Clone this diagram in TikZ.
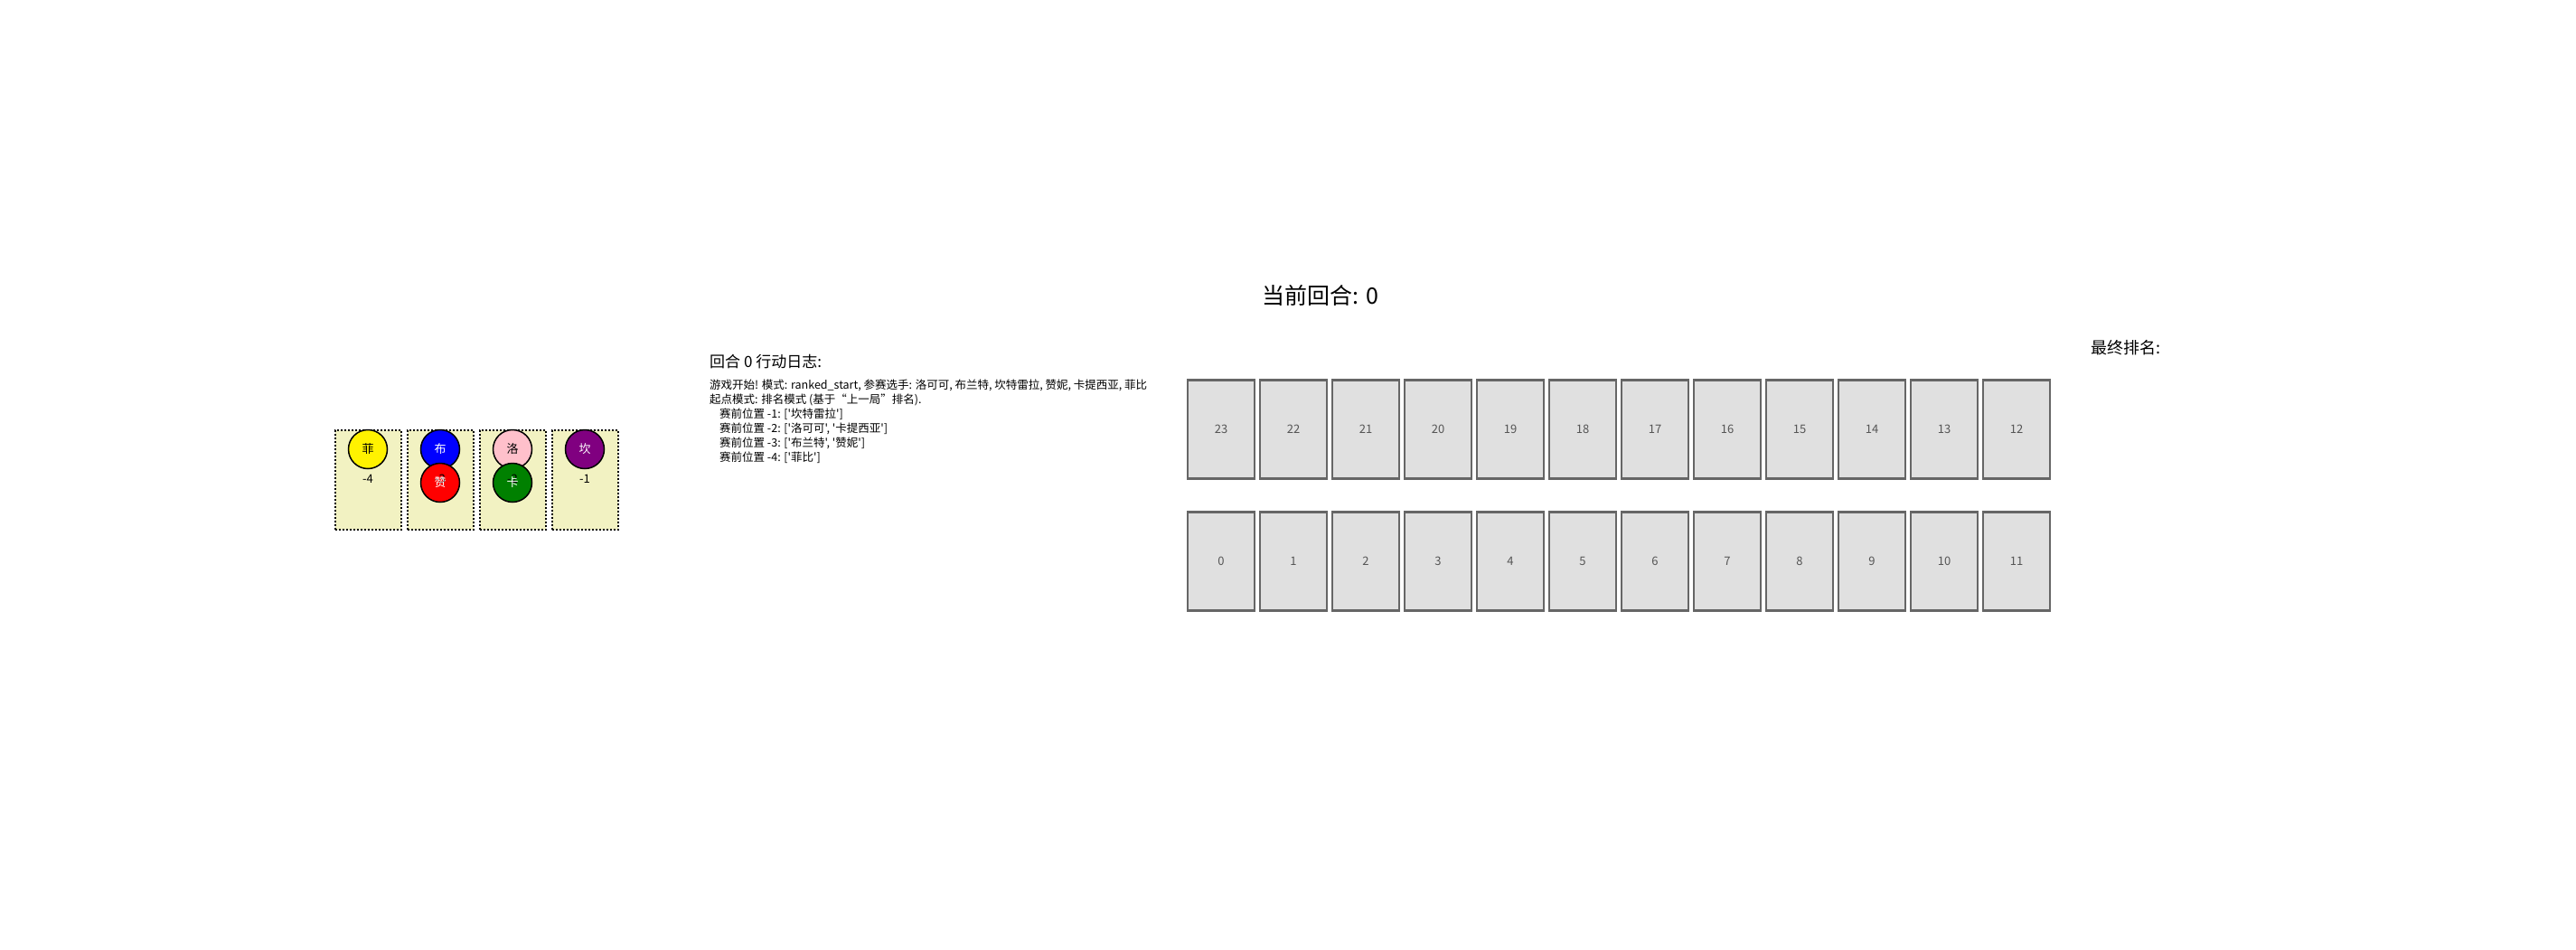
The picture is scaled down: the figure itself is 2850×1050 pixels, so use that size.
\documentclass[tikz,border=0pt]{standalone}
\usepackage{fontspec}
\setmainfont{Noto Sans CJK SC}[Ligatures=TeXOff]
\definecolor{slotfill}{HTML}{F2F2C2}
\definecolor{cellfill}{HTML}{E0E0E0}
\definecolor{cellline}{HTML}{666666}
\definecolor{celltext}{HTML}{555555}
\definecolor{runpink}{HTML}{FFC0CB}
\definecolor{runpurple}{HTML}{800080}
\definecolor{rungreen}{HTML}{008000}
\tikzset{
	slotbox/.style={draw=black, line width=2pt, dash pattern=on 2pt off 2pt, fill=slotfill, minimum width=73pt, minimum height=110pt, inner sep=0pt},
	runner/.style={circle, draw=black, line width=1.5pt, minimum size=43pt, inner sep=0pt},
	runtext/.style={font=\fontsize{13}{13}\selectfont},
	cell/.style={draw=cellline, line width=2.5pt, fill=cellfill, minimum width=74pt, minimum height=109pt, inner sep=0pt, text=celltext, font=\fontsize{13}{13}\selectfont}
}

\begin{document}
\begin{tikzpicture}[x=1pt, y=-1pt]
		\useasboundingbox[fill=white] (0,0) rectangle (2850,1050);
		% start slots
		\node[slotbox] (s4) at (407,531){};
		\node[slotbox] (s3) at (487,531){};
		\node[slotbox] (s2) at (567,531){};
		\node[slotbox] (s1) at (647,531){};
		\node[runner, fill=yellow] (fei) at (407,497){};
		\node[runner, fill=blue] (bu) at (487,497){};
		\node[runner, fill=red] (zan) at (487,534){};
		\node[runner, fill=runpink] (luo) at (567,497){};
		\node[runner, fill=rungreen] (ka) at (567,534){};
		\node[runner, fill=runpurple] (kan) at (647,497){};
		\node[runtext] (l4) at (407,530){-4};
		\node[runtext] (l3) at (487,530){-3};
		\node[runtext] (l2) at (567,530){-2};
		\node[runtext] (l1) at (647,530){-1};
		\node[runtext] at (fei){菲};
		\node[runtext, white] at (bu){布};
		\node[runtext, white] at (zan){赞};
		\node[runtext] at (luo){洛};
		\node[runtext, white] at (ka){卡};
		\node[runtext, white] at (kan){坎};
		% texts
		\node[font=\fontsize{25}{25}\selectfont] (title) at (1461,327){当前回合: 0};
		\node[font=\fontsize{18}{18}\selectfont] (final) at (2352,385){最终排名:};
		\node[anchor=west, inner sep=0pt, font=\fontsize{17}{17}\selectfont] (loghead) at (785,400){回合 0 行动日志:};
		\node[anchor=north west, align=left, inner sep=0pt, font=\fontsize{12.5}{16}\selectfont] (log) at (785,420){游戏开始! 模式: ranked\_start, 参赛选手: 洛可可, 布兰特, 坎特雷拉, 赞妮, 卡提西亚, 菲比\\
			起点模式: 排名模式 (基于“上一局”排名).\\
			\hspace*{11pt}赛前位置 -1: ['坎特雷拉']\\
			\hspace*{11pt}赛前位置 -2: ['洛可可', '卡提西亚']\\
			\hspace*{11pt}赛前位置 -3: ['布兰特', '赞妮']\\
			\hspace*{11pt}赛前位置 -4: ['菲比']};
		% track cells
		\foreach \i in {0,...,11}{
			\pgfmathtruncatemacro{\j}{23-\i}
			\node[cell] (c\i) at (1351+80*\i,621){\i};
			\node[cell] (c\j) at (1351+80*\i,475){\j};
		}
		\end{tikzpicture}
\end{document}
